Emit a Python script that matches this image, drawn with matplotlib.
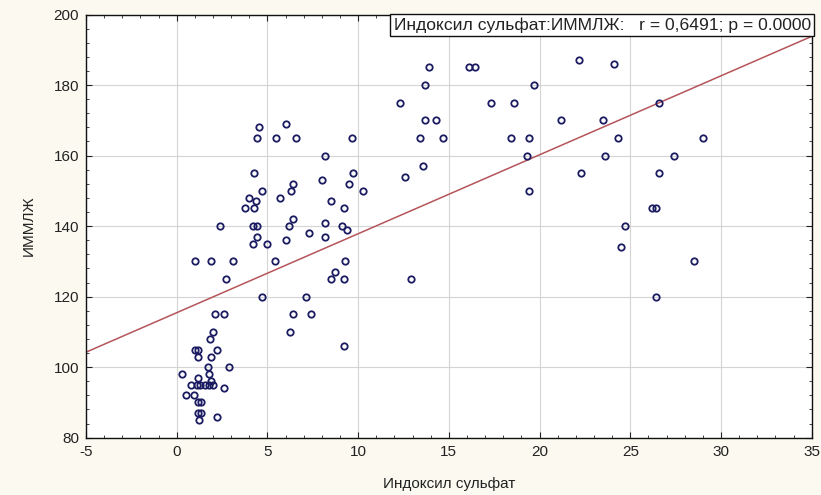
import numpy as np
import matplotlib
matplotlib.use("Agg")
import matplotlib.pyplot as plt
from matplotlib.ticker import MultipleLocator

plt.rcParams['font.family'] = ['Liberation Sans', 'DejaVu Sans']
plt.rcParams['axes.unicode_minus'] = False

# Indoxyl sulfate (x) vs left-ventricular mass index (y)
indoxyl = [
    0.3, 0.8, 1.1, 1.3, 1.55, 1.8, 2.0, 0.5, 0.95, 1.2, 1.35, 1.2, 1.35, 1.25,
    2.2, 2.6, 1.15, 1.9, 1.8, 1.7, 2.9, 1.2, 1.9, 1.0, 1.15, 2.2, 1.85, 2.0,
    2.1, 2.6, 2.7, 1.0, 1.9, 3.1, 2.4,
    4.7, 5.4, 4.2, 5.0, 6.0, 4.4, 4.2, 4.45, 6.2, 6.4, 3.75, 4.25, 4.0, 4.35,
    5.7, 4.7, 6.3, 6.4, 4.25, 4.4, 5.5, 6.6, 4.55, 6.05, 6.25, 6.4, 7.4, 7.1,
    7.3, 8.2, 8.15, 9.1, 9.4, 9.2, 8.5, 8.0, 9.5, 10.25, 9.7, 8.15, 9.65, 8.5,
    9.2, 8.7, 9.3, 9.2,
    12.3, 12.6, 12.9, 13.4, 13.6, 13.7, 13.7, 13.9, 14.3, 14.7, 16.1, 16.45,
    17.3, 18.4, 18.6, 19.3, 19.4, 19.4, 19.7, 21.2, 22.2, 22.3, 23.5, 23.6,
    24.1, 24.3, 24.5, 24.7, 26.2, 26.4, 26.4, 26.6, 26.6, 27.4, 28.5, 29.0,
]
immlzh = [
    98, 95, 95, 95, 95, 95, 95, 92, 92, 90, 90, 87, 87, 85,
    86, 94, 97, 96, 98, 100, 100, 103, 103, 105, 105, 105, 108, 110,
    115, 115, 125, 130, 130, 130, 140,
    120, 130, 135, 135, 136, 137, 140, 140, 140, 142, 145, 145, 148, 147,
    148, 150, 150, 152, 155, 165, 165, 165, 168, 169, 110, 115, 115, 120,
    138, 137, 141, 140, 139, 145, 147, 153, 152, 150, 155, 160, 165, 125,
    125, 127, 130, 106,
    175, 154, 125, 165, 157, 170, 180, 185, 170, 165, 185, 185,
    175, 165, 175, 160, 165, 150, 180, 170, 187, 155, 170, 160,
    186, 165, 134, 140, 145, 145, 120, 155, 175, 160, 130, 165,
]

x_ticks = [-5, 0, 5, 10, 15, 20, 25, 30, 35]
y_ticks = [80, 100, 120, 140, 160, 180, 200]
x_label = "Индоксил сульфат"
y_label = "ИММЛЖ"
stats_text = "Индоксил сульфат:ИММЛЖ:   r = 0,6491; p = 0.0000"

x = np.asarray(indoxyl)
y = np.asarray(immlzh)
slope, intercept = np.polyfit(x, y, 1)

fig = plt.figure(figsize=(8.21, 4.95), dpi=100, facecolor="#fcfaf0")
ax = fig.add_axes([0.1047, 0.1158, 0.8840, 0.8549])
ax.set_facecolor("white")

ax.set_xlim(x_ticks[0], x_ticks[-1])
ax.set_ylim(y_ticks[0], y_ticks[-1])
ax.set_xticks(x_ticks)
ax.set_yticks(y_ticks)
ax.xaxis.set_minor_locator(MultipleLocator(1))
ax.yaxis.set_minor_locator(MultipleLocator(4))
ax.grid(True, which="major", color="#d4d4d4", linewidth=0.8)
ax.set_axisbelow(True)

ax.tick_params(which="both", direction="in", top=True, right=True,
               colors="#222222", labelsize=11, pad=5)
ax.tick_params(which="major", length=4, width=0.8)
ax.tick_params(which="minor", length=2, width=0.6)
for sp in ax.spines.values():
    sp.set_color("#111111")
    sp.set_linewidth(1.0)

# regression line
xl = np.array(ax.get_xlim())
ax.plot(xl, intercept + slope * xl, color="#b5555a", linewidth=1.1, zorder=2)

ax.plot(x, y, linestyle="none", marker="o", markersize=4.6,
        markerfacecolor="none", markeredgecolor="#1b1b62",
        markeredgewidth=1.3, zorder=3)

ax.set_xlabel(x_label, fontsize=11, color="#222222", labelpad=13)
ax.set_ylabel(y_label, fontsize=11, color="#222222", labelpad=13)

ax.text(0.9985, 0.993, stats_text, transform=ax.transAxes, ha="right",
        va="top", fontsize=12.6, color="#222222", zorder=5,
        bbox=dict(boxstyle="square,pad=0.2", facecolor="white",
                  edgecolor="#111111", linewidth=1.0))

fig.savefig("out.png", dpi=100, facecolor=fig.get_facecolor())
